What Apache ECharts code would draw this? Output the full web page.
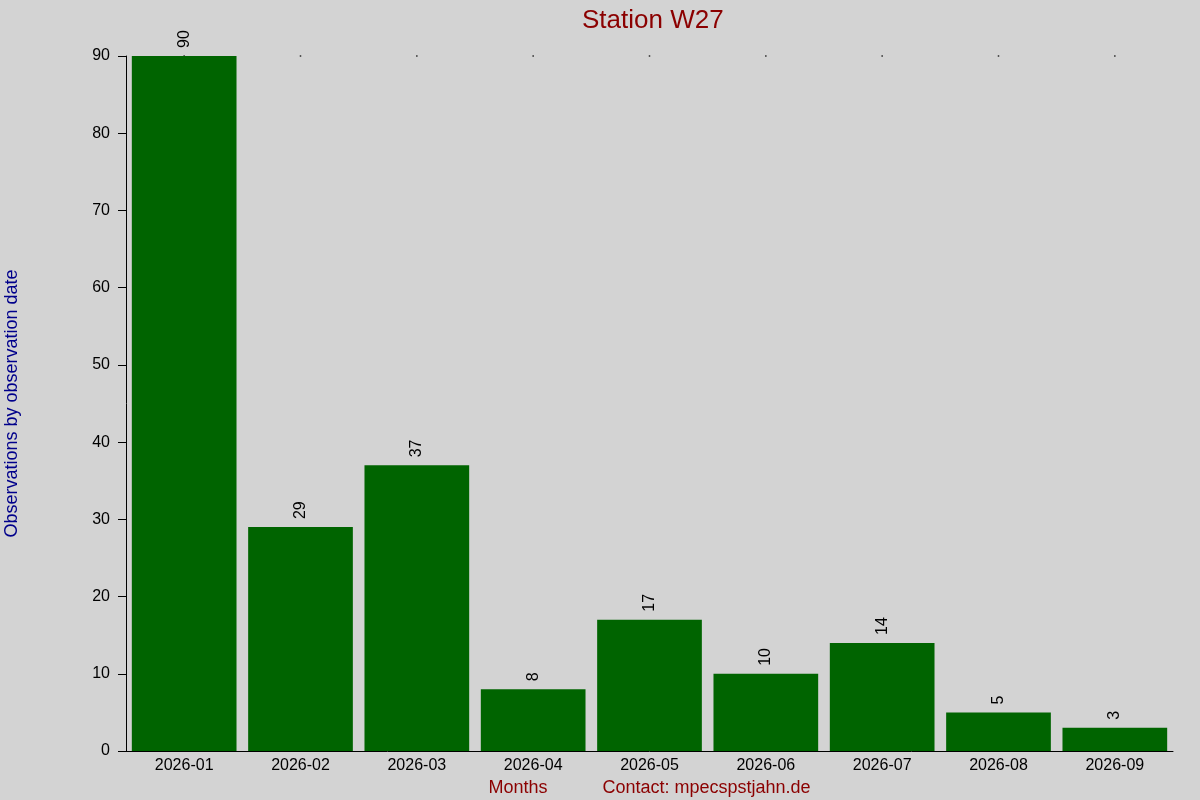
<!DOCTYPE html>
<html>
<head>
<meta charset="utf-8">
<script src="https://cdn.jsdelivr.net/npm/echarts@6/dist/echarts.min.js"></script>
<style>
  html, body { margin: 0; padding: 0; background: #d3d3d3; }
  #chart { width: 1200px; height: 800px; }
</style>
</head>
<body>
<div id="chart"></div>
<script>
const months = ["2026-01", "2026-02", "2026-03", "2026-04", "2026-05", "2026-06", "2026-07", "2026-08", "2026-09"];
const observations = [90, 29, 37, 8, 17, 10, 14, 5, 3];
const yTicks = { min: 0, max: 90, interval: 10 };
const titleText = "Station W27";
const yName = "Observations by observation date";
const xName = "Months           Contact: mpecspstjahn.de";

const font = "Liberation Sans, Arial, sans-serif";
const chart = echarts.init(document.getElementById("chart"));

chart.setOption({
  backgroundColor: "#d3d3d3",
  animation: false,
  textStyle: { fontFamily: font },
  title: {
    text: titleText,
    left: 577,
    top: 3,
    textStyle: { color: "#8b0000", fontSize: 26, fontWeight: "normal", fontFamily: font }
  },
  grid: { left: 126, right: 27, top: 56, bottom: 49, containLabel: false, outerBoundsMode: "none" },
  xAxis: {
    type: "category",
    data: months,
    name: xName,
    nameLocation: "middle",
    nameGap: 27,
    nameTextStyle: { color: "#8b0000", fontSize: 18, fontFamily: font },
    axisLine: { lineStyle: { color: "#000", width: 1 } },
    axisTick: { show: false },
    axisLabel: { color: "#000", fontSize: 16, margin: 7, fontFamily: font }
  },
  yAxis: {
    type: "value",
    min: yTicks.min,
    max: yTicks.max,
    interval: yTicks.interval,
    name: yName,
    nameLocation: "middle",
    nameGap: 105,
    nameTextStyle: { color: "#00008b", fontSize: 18, fontFamily: font },
    axisLine: { show: true, lineStyle: { color: "#000", width: 1 } },
    axisTick: { show: true, length: 8, lineStyle: { color: "#000" } },
    axisLabel: { color: "#000", fontSize: 16, margin: 16, fontFamily: font },
    splitLine: { show: false }
  },
  series: [
    {
      type: "bar",
      data: observations,
      barCategoryGap: "10%",
      itemStyle: { color: "#006400" },
      label: {
        show: true,
        position: "top",
        rotate: 90,
        align: "left",
        verticalAlign: "middle",
        distance: 8,
        color: "#000",
        fontSize: 16,
        fontFamily: font
      }
    },
    {
      type: "scatter",
      data: months.map(() => yTicks.max),
      symbol: "rect",
      symbolSize: 1.5,
      itemStyle: { color: "#000" },
      z: 1,
      silent: true
    }
  ]
});
</script>
</body>
</html>
